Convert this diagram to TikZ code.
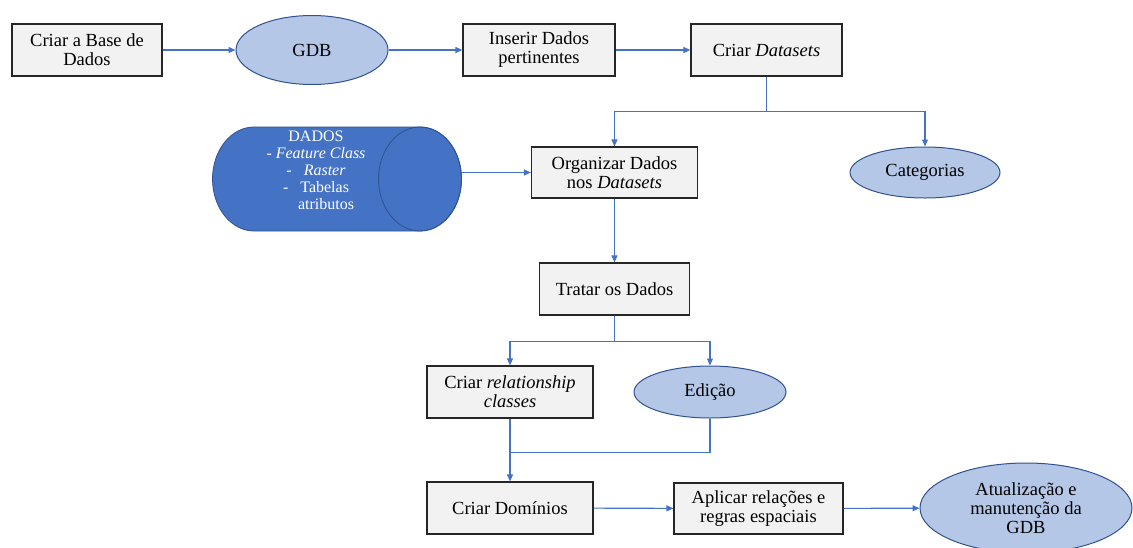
\documentclass[tikz,border=0pt]{standalone}
\usepackage{fontspec}
\setmainfont{Liberation Serif}
\newfontfamily\timesface{Liberation Serif}
\usetikzlibrary{arrows.meta,shapes.geometric}

\definecolor{boxfill}{HTML}{F2F2F2}
\definecolor{boxline}{HTML}{262626}
\definecolor{ovalfill}{HTML}{B4C7E7}
\definecolor{ovalline}{HTML}{2F528F}
\definecolor{flow}{HTML}{4472C4}

\tikzset{
  stepbox/.style={draw=boxline, line width=1.2pt, fill=boxfill, rectangle,
    inner sep=0pt, align=center, font=\timesface\fontsize{18.5}{19}\selectfont},
  oval/.style={draw=ovalline, line width=1pt, fill=ovalfill, ellipse,
    inner sep=0pt, align=center, font=\timesface\fontsize{18.5}{19}\selectfont},
  flowline/.style={draw=flow, line width=1.1pt},
  arr/.style={flowline, -{Triangle[length=7pt,width=6pt]}},
}

\begin{document}
\begin{tikzpicture}[x=1pt,y=-1pt]
\useasboundingbox (0,0) rectangle (1133,547);

% top row
\node[stepbox, minimum width=150, minimum height=52] (base) at (87,50) {\timesface Criar a Base de\\\timesface Dados};
\node[oval, minimum width=152, minimum height=69] (gdb) at (312,50) {\timesface GDB};
\node[stepbox, minimum width=152, minimum height=52] (ins) at (539,50) {\timesface Inserir Dados\\\timesface pertinentes};
\node[stepbox, minimum width=151, minimum height=52] (dts) at (766.5,50) {\timesface Criar \textit{Datasets}};

% data cylinder
\path[fill=flow, draw=ovalline, line width=0.8pt]
  (254,127) -- (420,127) arc[start angle=-90, end angle=90, x radius=41.5, y radius=52]
  -- (254,231) arc[start angle=90, end angle=270, x radius=41.5, y radius=52] -- cycle;
\draw[draw=ovalline, line width=0.8pt] (420,179) ellipse[x radius=41.5, y radius=52];
\node[text=white, align=center, font=\timesface\fontsize{16}{17}\selectfont] (dados) at (316,170.5)
  {\timesface DADOS\\\timesface - \textit{Feature Class}\\\timesface -\hspace{12pt}\textit{Raster}\\\timesface -\hspace{12pt}Tabelas\\\timesface\hspace*{20pt}atributos};
\coordinate (cylout) at (462,172.5);

% middle
\node[stepbox, minimum width=166, minimum height=51] (org) at (614.5,172.5) {\timesface Organizar Dados\\\timesface nos \textit{Datasets}};
\node[oval, minimum width=150, minimum height=51] (cat) at (925,172.5) {\timesface Categorias};
\node[stepbox, minimum width=150, minimum height=52] (tra) at (614.5,289) {\timesface Tratar os Dados};
\node[stepbox, minimum width=166, minimum height=52] (rel) at (510,392) {\timesface Criar \textit{relationship}\\\timesface\textit{classes}};
\node[oval, minimum width=152, minimum height=52] (edi) at (710,392) {\timesface Edição};

% bottom row
\node[stepbox, minimum width=166, minimum height=52] (dom) at (510,508) {\timesface Criar Domínios};
\node[stepbox, minimum width=169, minimum height=51] (apl) at (758.5,508.5) {\timesface Aplicar relações e\\\timesface regras espaciais};
\node[oval, minimum width=212, minimum height=90] (atu) at (1026,508) {\timesface Atualização e\\\timesface manutenção da\\\timesface GDB};

% connectors
\draw[arr] (base) -- (gdb);
\draw[arr] (gdb) -- (ins);
\draw[arr] (ins) -- (dts);
\draw[arr] (dts.south) -- ++(0,35) -| (org.north);
\draw[arr] (dts.south) -- ++(0,35) -| (cat.north);
\draw[arr] (cylout) -- (org.west);
\draw[arr] (org) -- (tra);
\draw[arr] (tra.south) -- ++(0,26) -| (rel.north);
\draw[arr] (tra.south) -- ++(0,26) -| (edi.north);
\draw[flowline] (edi.south) -- ++(0,34) -| (rel.south);
\draw[arr] (rel) -- (dom);
\draw[arr] (dom) -- (apl);
\draw[arr] (apl) -- (atu);
\end{tikzpicture}
\end{document}
